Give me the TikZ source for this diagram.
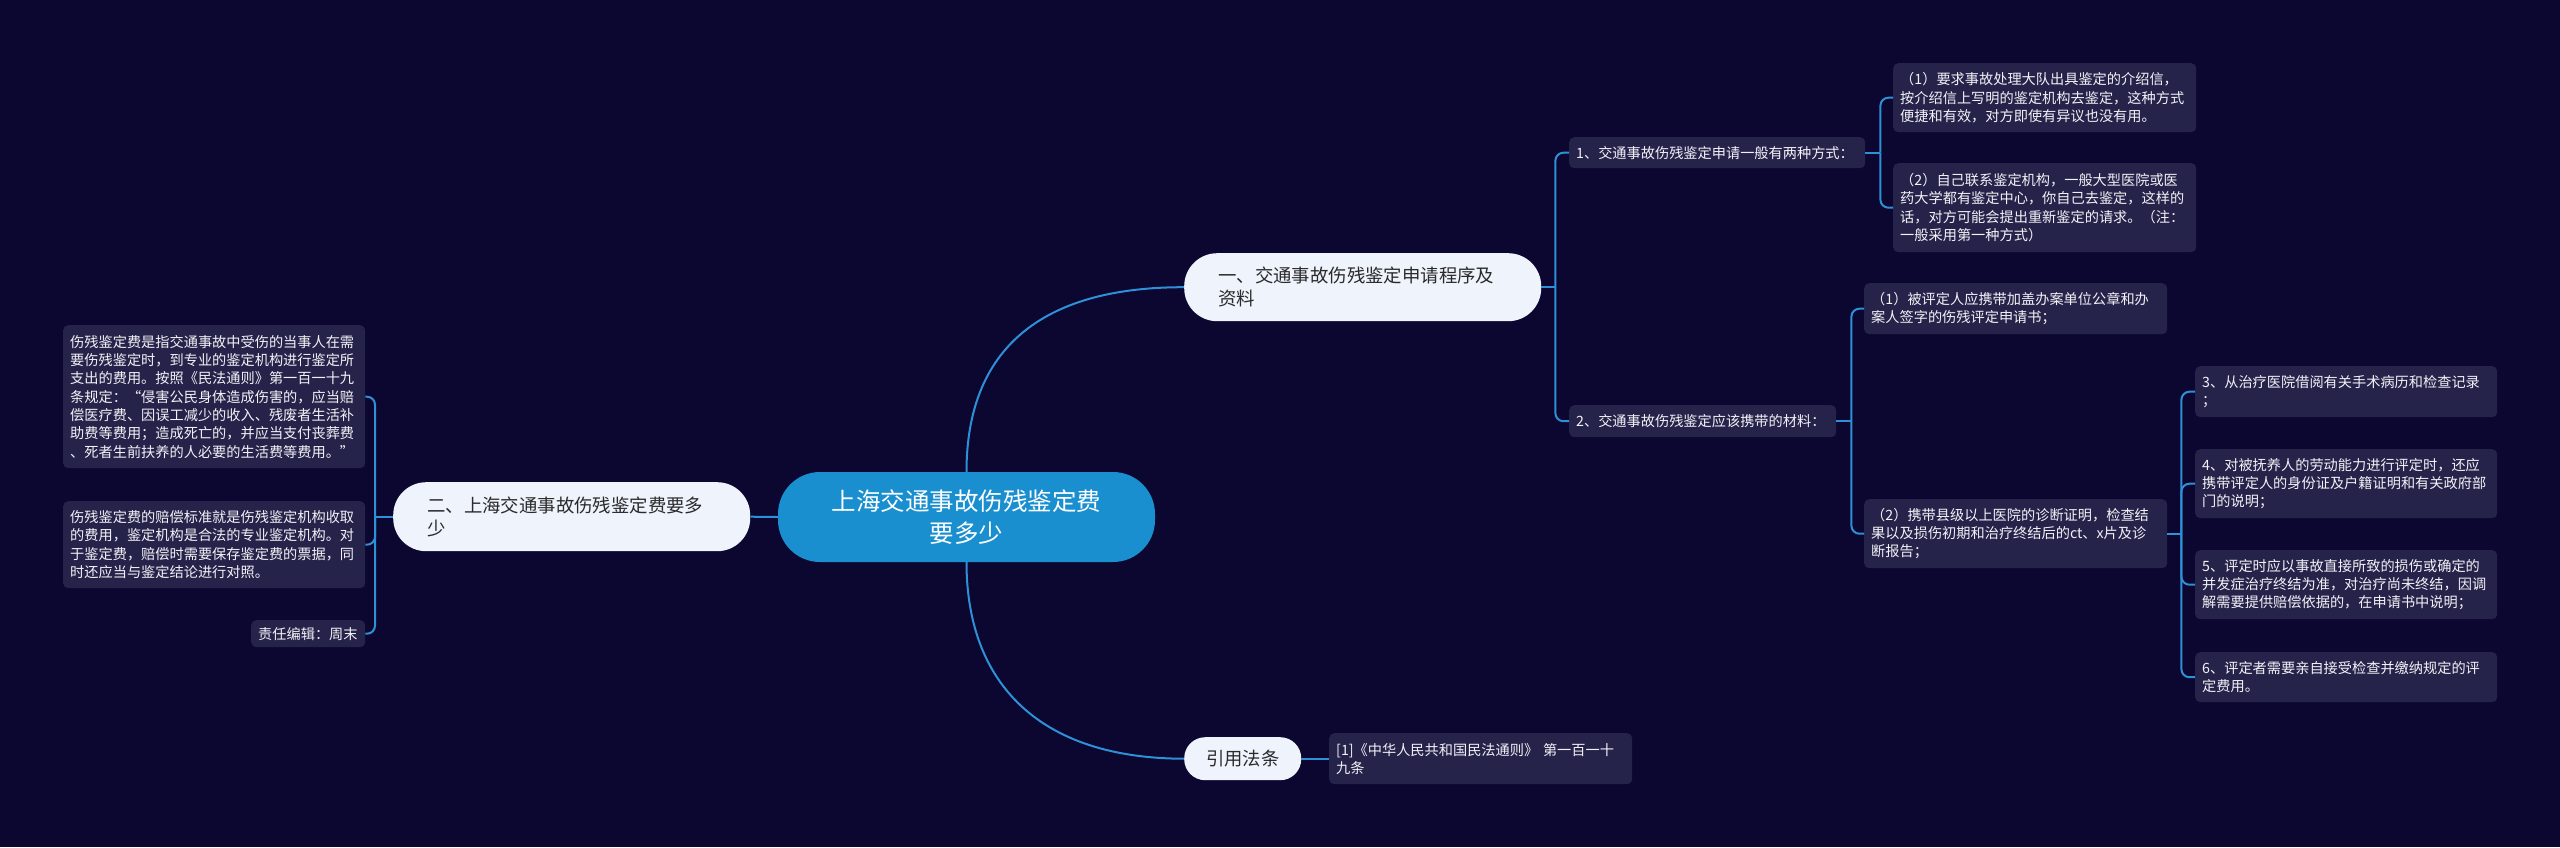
\documentclass[tikz,border=0pt]{standalone}
\usepackage{fontspec}
\setmainfont{Noto Sans CJK SC}
\definecolor{bg}{HTML}{0B0731}
\definecolor{boxc}{HTML}{26234B}
\definecolor{linec}{HTML}{2E91D8}
\definecolor{rootc}{HTML}{1A8FD0}
\definecolor{lvl}{HTML}{EEF3FC}
\definecolor{lvltext}{HTML}{2A2A2A}
\definecolor{leaftext}{HTML}{F2F2F6}
\begin{document}
\begin{tikzpicture}[x=1pt,y=-1pt,
  leaf/.style={anchor=north west, fill=boxc, rounded corners=5pt, text=leaftext,
    font=\fontsize{14.2}{18.3}\selectfont, align=left, inner xsep=7pt, inner ysep=0pt},
  lvlone/.style={anchor=north west, fill=lvl, text=lvltext, rounded corners=33pt,
    font=\fontsize{18.4}{23.4}\selectfont, align=left, inner xsep=34pt, inner ysep=0pt,
    minimum width=357pt, text width=289pt},
  rootnode/.style={fill=rootc, text=white, rounded corners=42pt,
    font=\fontsize{24.5}{31.5}\selectfont, align=center, inner sep=0pt,
    minimum width=377pt, minimum height=90pt},
  conn/.style={draw=linec, line width=2pt},
  bracket/.style={conn, rounded corners=8pt}
]
\fill[bg] (0,0) rectangle (2560,847);
\useasboundingbox (0,0) rectangle (2560,847);

% root and first level
\node[rootnode] (root) at (966.5,517) {上海交通事故伤残鉴定费\\要多少};
\node[lvlone, minimum height=68pt] (n1) at (1184,253) {一、交通事故伤残鉴定申请程序及\\资料};
\node[lvlone, minimum height=69pt] (n2) at (393,482) {二、上海交通事故伤残鉴定费要多\\少};
\node[anchor=north west, fill=lvl, text=lvltext, align=center, inner sep=0pt, minimum width=117pt, minimum height=43pt, rounded corners=21pt, font=\fontsize{18.3}{23}\selectfont] (n3) at (1184,737) {引用法条};

% right branch 一
\node[leaf, minimum width=296pt, text width=282pt, minimum height=31pt] (c1) at (1569,137) {1、交通事故伤残鉴定申请一般有两种方式：};
\node[leaf, minimum width=303pt, text width=289pt, minimum height=69pt] (c1a) at (1893,63) {（1）要求事故处理大队出具鉴定的介绍信，\\按介绍信上写明的鉴定机构去鉴定，这种方式\\便捷和有效，对方即使有异议也没有用。};
\node[leaf, minimum width=303pt, text width=289pt, minimum height=89pt] (c1b) at (1893,163) {（2）自己联系鉴定机构，一般大型医院或医\\药大学都有鉴定中心，你自己去鉴定，这样的\\话，对方可能会提出重新鉴定的请求。（注：\\一般采用第一种方式）};
\node[leaf, minimum width=267pt, text width=253pt, minimum height=32pt] (c2) at (1569,405) {2、交通事故伤残鉴定应该携带的材料：};
\node[leaf, minimum width=303pt, text width=289pt, minimum height=51pt] (m1) at (1864,283) {（1）被评定人应携带加盖办案单位公章和办\\案人签字的伤残评定申请书；};
\node[leaf, minimum width=303pt, text width=289pt, minimum height=69pt] (m2) at (1864,499) {（2）携带县级以上医院的诊断证明，检查结\\果以及损伤初期和治疗终结后的ct、x片及诊\\断报告；};
\node[leaf, minimum width=302pt, text width=288pt, minimum height=51pt] (i3) at (2195,366) {3、从治疗医院借阅有关手术病历和检查记录\\；};
\node[leaf, minimum width=302pt, text width=288pt, minimum height=69pt] (i4) at (2195,449) {4、对被抚养人的劳动能力进行评定时，还应\\携带评定人的身份证及户籍证明和有关政府部\\门的说明；};
\node[leaf, minimum width=302pt, text width=288pt, minimum height=69pt] (i5) at (2195,550) {5、评定时应以事故直接所致的损伤或确定的\\并发症治疗终结为准，对治疗尚未终结，因调\\解需要提供赔偿依据的，在申请书中说明；};
\node[leaf, minimum width=302pt, text width=288pt, minimum height=50pt] (i6) at (2195,652) {6、评定者需要亲自接受检查并缴纳规定的评\\定费用。};
\node[leaf, minimum width=303pt, text width=289pt, minimum height=51pt] (ref) at (1329,733) {[1]《中华人民共和国民法通则》 第一百一十\\九条};

% left branch 二
\node[leaf, minimum width=302pt, text width=288pt, minimum height=143pt] (la) at (63,325) {伤残鉴定费是指交通事故中受伤的当事人在需\\要伤残鉴定时，到专业的鉴定机构进行鉴定所\\支出的费用。按照《民法通则》第一百一十九\\条规定：“侵害公民身体造成伤害的，应当赔\\偿医疗费、因误工减少的收入、残废者生活补\\助费等费用；造成死亡的，并应当支付丧葬费\\、死者生前扶养的人必要的生活费等费用。”};
\node[leaf, minimum width=302pt, text width=288pt, minimum height=87pt] (lb) at (63,501) {伤残鉴定费的赔偿标准就是伤残鉴定机构收取\\的费用，鉴定机构是合法的专业鉴定机构。对\\于鉴定费，赔偿时需要保存鉴定费的票据，同\\时还应当与鉴定结论进行对照。};
\node[leaf, minimum width=114pt, text width=100pt, minimum height=27pt] (lc) at (251,620) {责任编辑：周末};

% connectors from root
\draw[conn] (root.north) .. controls (966.5,350) and (1040,287) .. (n1.west);
\draw[conn] (root.south) .. controls (966.5,684) and (1040,758.5) .. (n3.west);
\draw[conn] (root.west) -- (n2.east);
\draw[conn] (n3.east) -- (ref.west);

% bracket 一
\coordinate (j1) at ([xshift=14pt]n1.east);
\draw[conn] (n1.east) -- (j1);
\draw[bracket] (j1) |- (c1.west);
\draw[bracket] (j1) |- (c2.west);

\coordinate (j2) at ([xshift=15pt]c1.east);
\draw[conn] (c1.east) -- (j2);
\draw[bracket] (j2) |- (c1a.west);
\draw[bracket] (j2) |- (c1b.west);

\coordinate (j3) at ([xshift=15pt]c2.east);
\draw[conn] (c2.east) -- (j3);
\draw[bracket] (j3) |- (m1.west);
\draw[bracket] (j3) |- (m2.west);

\coordinate (j4) at ([xshift=14pt]m2.east);
\draw[conn] (m2.east) -- (j4);
\draw[bracket] (j4) |- (i3.west);
\draw[bracket] (j4) |- (i4.west);
\draw[bracket] (j4) |- (i5.west);
\draw[bracket] (j4) |- (i6.west);

% bracket 二
\coordinate (jL) at ([xshift=-18pt]n2.west);
\draw[conn] (n2.west) -- (jL);
\draw[bracket] (jL) |- (la.east);
\draw[bracket] (jL) |- (lb.east);
\draw[bracket] (jL) |- (lc.east);
\end{tikzpicture}
\end{document}
